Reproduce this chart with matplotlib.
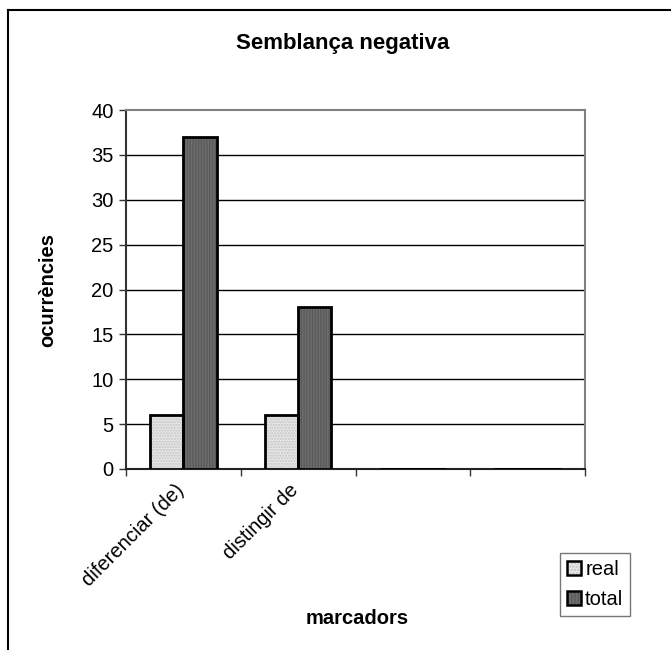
import matplotlib
matplotlib.use("Agg")
import matplotlib.pyplot as plt
from matplotlib.patches import Patch
from matplotlib.lines import Line2D
from matplotlib.transforms import ScaledTranslation
import numpy as np

plt.rcParams['font.family'] = ['Liberation Sans', 'DejaVu Sans']

categories = ['diferenciar (de)', 'distingir de', '', '']
real = [6, 6, 0, 0]
total = [37, 18, 0, 0]
yticks = [0, 5, 10, 15, 20, 25, 30, 35, 40]

W, H = 671, 650
FS = 14.5
fig = plt.figure(figsize=(W / 100, H / 100), dpi=100)
ax = fig.add_axes([126 / W, 1 - 469 / H, (585 - 126) / W, (469 - 110) / H])

x = np.arange(len(categories))
bw = 0.29
real_c, real_h = '#e6e6e6', '#c4c4c4'
tot_c, tot_h = '#6e6e6e', '#5a5a5a'

ax.bar(x - bw / 2, real, bw, color=real_c, hatch='......', edgecolor=real_h, linewidth=0, zorder=3)
ax.bar(x - bw / 2, real, bw, fill=False, edgecolor='black', linewidth=2, zorder=4)
ax.bar(x + bw / 2, total, bw, color=tot_c, hatch='||||||', edgecolor=tot_h, linewidth=0, zorder=3)
ax.bar(x + bw / 2, total, bw, fill=False, edgecolor='black', linewidth=2, zorder=4)

ax.set_xlim(-0.5, len(categories) - 0.5)
ax.set_ylim(0, 40)
ax.set_yticks(yticks)
ax.set_yticklabels([str(v) for v in yticks], fontsize=FS)
for v in yticks[1:-1]:
    ax.axhline(v, color='black', linewidth=1, zorder=1)

ax.set_xticks(x)
ax.set_xticklabels(categories, rotation=45, ha='right', va='top', rotation_mode='anchor', fontsize=FS)
ax.tick_params(axis='x', which='major', length=0, pad=8)
shift = ScaledTranslation(-9 / 100, 0, fig.dpi_scale_trans)
for lbl in ax.get_xticklabels():
    lbl.set_transform(lbl.get_transform() + shift)
ax.set_xticks(np.arange(-0.5, len(categories)), minor=True)
ax.tick_params(axis='x', which='minor', length=5, width=1, direction='out', color='#333333')
ax.tick_params(axis='y', length=5, width=1, color='#333333', pad=4)

ax.spines['left'].set_color('#333333')
ax.spines['left'].set_linewidth(1.5)
ax.spines['bottom'].set_color('#222222')
ax.spines['bottom'].set_linewidth(1.5)
ax.spines['top'].set_color('#808080')
ax.spines['top'].set_linewidth(1.5)
ax.spines['right'].set_color('#808080')
ax.spines['right'].set_linewidth(1.5)

fig.text(343 / W, 1 - 43 / H, 'Semblança negativa', ha='center', va='center', fontsize=16, fontweight='bold')
fig.text(48 / W, 1 - 290 / H, 'ocurrències', ha='center', va='center', rotation=90, fontsize=FS, fontweight='bold')
fig.text(357 / W, 1 - 618 / H, 'marcadors', ha='center', va='center', fontsize=FS, fontweight='bold')

handles = [(Patch(facecolor=real_c, edgecolor=real_h, linewidth=0, hatch='.....'),
            Patch(fill=False, edgecolor='black', linewidth=1.8)),
           (Patch(facecolor=tot_c, edgecolor=tot_h, linewidth=0, hatch='|||||'),
            Patch(fill=False, edgecolor='black', linewidth=1.8))]
leg = fig.legend(handles, ['real', 'total'], loc='upper left',
                 bbox_to_anchor=(560 / W, 1 - 553 / H), bbox_transform=fig.transFigure,
                 fontsize=FS, frameon=True, fancybox=False, handlelength=0.7, handleheight=0.7,
                 handletextpad=0.2, borderpad=0.35, labelspacing=0.55, borderaxespad=0)
leg.get_frame().set_edgecolor('#555555')
leg.get_frame().set_linewidth(1)

fig.add_artist(Line2D([8 / W, 1.0], [1 - 10 / H, 1 - 10 / H], color='black', linewidth=1.5, transform=fig.transFigure))
fig.add_artist(Line2D([8 / W, 8 / W], [1 - 10 / H, 0.0], color='black', linewidth=1.5, transform=fig.transFigure))

fig.savefig('out.png', dpi=100)
